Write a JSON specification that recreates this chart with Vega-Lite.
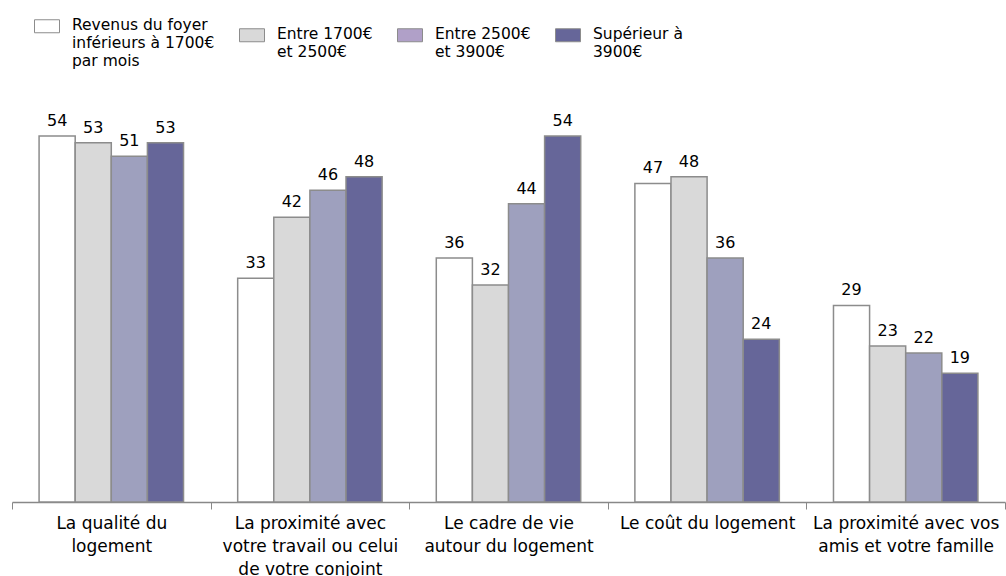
{
  "$schema": "https://vega.github.io/schema/vega-lite/v6.json",
  "width": 993,
  "height": 366,
  "autosize": "none",
  "padding": {"left": 12, "top": 136, "right": 1, "bottom": 74},
  "background": "#ffffff",
  "config": {"view": {"stroke": null}, "font": "DejaVu Sans"},
  "data": {
    "values": [
      {"critere": "La qualité du|logement", "revenu": "Revenus du foyer|inférieurs à 1700€|par mois", "valeur": 54},
      {"critere": "La qualité du|logement", "revenu": "Entre 1700€|et 2500€", "valeur": 53},
      {"critere": "La qualité du|logement", "revenu": "Entre 2500€|et 3900€", "valeur": 51},
      {"critere": "La qualité du|logement", "revenu": "Supérieur à|3900€", "valeur": 53},
      {"critere": "La proximité avec|votre travail ou celui|de votre conjoint", "revenu": "Revenus du foyer|inférieurs à 1700€|par mois", "valeur": 33},
      {"critere": "La proximité avec|votre travail ou celui|de votre conjoint", "revenu": "Entre 1700€|et 2500€", "valeur": 42},
      {"critere": "La proximité avec|votre travail ou celui|de votre conjoint", "revenu": "Entre 2500€|et 3900€", "valeur": 46},
      {"critere": "La proximité avec|votre travail ou celui|de votre conjoint", "revenu": "Supérieur à|3900€", "valeur": 48},
      {"critere": "Le cadre de vie|autour du logement", "revenu": "Revenus du foyer|inférieurs à 1700€|par mois", "valeur": 36},
      {"critere": "Le cadre de vie|autour du logement", "revenu": "Entre 1700€|et 2500€", "valeur": 32},
      {"critere": "Le cadre de vie|autour du logement", "revenu": "Entre 2500€|et 3900€", "valeur": 44},
      {"critere": "Le cadre de vie|autour du logement", "revenu": "Supérieur à|3900€", "valeur": 54},
      {"critere": "Le coût du logement", "revenu": "Revenus du foyer|inférieurs à 1700€|par mois", "valeur": 47},
      {"critere": "Le coût du logement", "revenu": "Entre 1700€|et 2500€", "valeur": 48},
      {"critere": "Le coût du logement", "revenu": "Entre 2500€|et 3900€", "valeur": 36},
      {"critere": "Le coût du logement", "revenu": "Supérieur à|3900€", "valeur": 24},
      {"critere": "La proximité avec vos|amis et votre famille", "revenu": "Revenus du foyer|inférieurs à 1700€|par mois", "valeur": 29},
      {"critere": "La proximité avec vos|amis et votre famille", "revenu": "Entre 1700€|et 2500€", "valeur": 23},
      {"critere": "La proximité avec vos|amis et votre famille", "revenu": "Entre 2500€|et 3900€", "valeur": 22},
      {"critere": "La proximité avec vos|amis et votre famille", "revenu": "Supérieur à|3900€", "valeur": 19}
    ]
  },
  "encoding": {
    "x": {
      "field": "critere",
      "type": "nominal",
      "sort": null,
      "scale": {"paddingInner": 0, "paddingOuter": 0},
      "axis": {
        "title": null,
        "labelAngle": 0,
        "labelExpr": "split(datum.label, '|')",
        "labelFont": "DejaVu Sans",
        "labelFontSize": 17,
        "labelColor": "#000000",
        "labelLineHeight": 23,
        "labelPadding": 6,
        "labelLimit": 300,
        "labelOverlap": false,
        "tickBand": "extent",
        "tickColor": "#888888",
        "tickSize": 7,
        "domainColor": "#888888",
        "domainWidth": 1.5,
        "labelBaseline": "top"
      }
    },
    "xOffset": {
      "field": "revenu",
      "type": "nominal",
      "sort": null,
      "scale": {"paddingInner": 0, "paddingOuter": 0.75}
    },
    "y": {
      "field": "valeur",
      "type": "quantitative",
      "scale": {"domain": [0, 54], "nice": false},
      "axis": null
    }
  },
  "layer": [
    {
      "mark": {"type": "bar", "opacity": 0},
      "encoding": {
        "fill": {
          "field": "revenu",
          "type": "nominal",
          "sort": null,
          "scale": {
            "domain": ["Revenus du foyer|inférieurs à 1700€|par mois", "Entre 1700€|et 2500€", "Entre 2500€|et 3900€", "Supérieur à|3900€"],
            "range": ["#ffffff", "#d9d9d9", "#b0a0c8", "#666699"]
          },
          "legend": {
            "title": null,
            "orient": "none",
            "direction": "horizontal",
            "legendX": 22,
            "legendY": -123,
            "labelExpr": "split(datum.label, '|')",
            "labelFont": "DejaVu Sans",
            "labelFontSize": 15.5,
            "labelColor": "#000000",
            "labelLimit": 300,
            "labelBaseline": "top",
            "labelOffset": 12,
            "columnPadding": 22,
            "symbolType": "M-1,-0.52H1V0.52H-1Z",
            "symbolSize": 625,
            "symbolStrokeColor": "#8c8c8c",
            "symbolStrokeWidth": 1,
            "symbolOpacity": 1,
            "encode": {
              "labels": {"update": {"lineHeight": {"value": 18}, "dy": {"value": -8}}}
            }
          }
        }
      }
    },
    {
      "mark": {"type": "bar", "stroke": "#8c8c8c", "strokeWidth": 1.5},
      "encoding": {
        "fill": {
          "field": "revenu",
          "type": "nominal",
          "sort": null,
          "scale": {
            "domain": ["Revenus du foyer|inférieurs à 1700€|par mois", "Entre 1700€|et 2500€", "Entre 2500€|et 3900€", "Supérieur à|3900€"],
            "range": ["#ffffff", "#d9d9d9", "#9ea0be", "#666699"]
          },
          "legend": null
        }
      }
    },
    {
      "mark": {"type": "text", "baseline": "bottom", "dy": -7, "fontSize": 16, "font": "DejaVu Sans", "color": "#000000"},
      "encoding": {
        "text": {"field": "valeur", "type": "quantitative"}
      }
    }
  ],
  "resolve": {"scale": {"fill": "independent"}}
}
